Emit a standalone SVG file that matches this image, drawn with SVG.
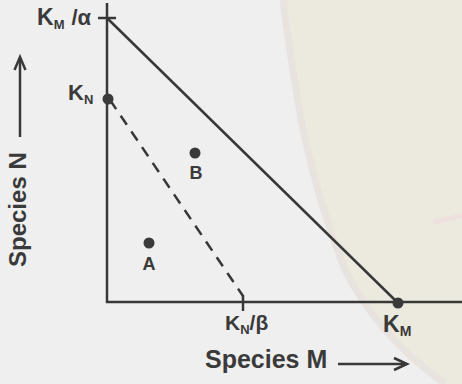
<svg xmlns="http://www.w3.org/2000/svg" width="462" height="384" viewBox="0 0 462 384">
<style>
.t{font-family:"Liberation Sans",Arial,sans-serif;font-weight:bold;fill:#3a3a3a}
.ax{stroke:#383838;stroke-width:2.5;fill:none}
.dot{fill:#3a3a3a}
</style>
<rect width="462" height="384" fill="#efefef"/>
<path d="M283,0 C295,90 305,170 345,270 C370,320 405,355 445,384 L462,384 L462,0 Z" fill="#ece9de"/>
<path d="M283,0 C295,90 305,170 345,270 C370,320 405,355 445,384" fill="none" stroke="#e8e3de" stroke-width="7"/>
<path d="M433,222 L462,216" stroke="#eee0de" stroke-width="5" fill="none"/>
<g id="axes">
<line class="ax" x1="107" y1="3" x2="107" y2="303"/>
<line class="ax" x1="106" y1="302" x2="462" y2="302"/>
<line class="ax" x1="98" y1="18" x2="116" y2="18"/>
<line class="ax" x1="243" y1="295" x2="243" y2="311"/>
</g>
<g id="connectors">
<line class="ax" x1="107" y1="18" x2="398" y2="303"/>
<line class="ax" x1="110" y1="100" x2="243" y2="296" stroke-dasharray="11,8" stroke-width="3"/>
</g>
<g id="KMalpha"><text class="t" x="37" y="25" font-size="23">K<tspan y="29" font-size="13">M</tspan><tspan y="25" dx="7" font-size="22">/α</tspan></text></g>
<g id="KN"><circle class="dot" cx="108" cy="99" r="5.5"/><text class="t" x="68" y="100" font-size="22">K<tspan y="104" font-size="13">N</tspan></text></g>
<g id="KNbeta"><text class="t" x="225" y="330" font-size="21">K<tspan y="334" font-size="13">N</tspan><tspan y="330">/β</tspan></text></g>
<g id="KM"><circle class="dot" cx="398" cy="303" r="5.5"/><text class="t" x="383" y="332" font-size="23">K<tspan y="336" font-size="14">M</tspan></text></g>
<g id="B"><circle class="dot" cx="195" cy="153" r="5.5"/><text class="t" x="196" y="179" font-size="18" text-anchor="middle">B</text></g>
<g id="A"><circle class="dot" cx="149" cy="243" r="5.5"/><text class="t" x="149" y="270" font-size="18" text-anchor="middle">A</text></g>
<g id="speciesN">
<text class="t" font-size="24" transform="translate(26,267) rotate(-90)">Species N</text>
<line class="ax" x1="20" y1="137" x2="20" y2="59" stroke-width="2"/>
<path class="ax" d="M14.5,70 L20,57 L25.5,70" stroke-width="2"/>
</g>
<g id="speciesM">
<text class="t" x="205" y="368" font-size="25">Species M</text>
<line class="ax" x1="338" y1="364" x2="405" y2="364" stroke-width="2"/>
<path class="ax" d="M394,358 L407,364 L394,370" stroke-width="2"/>
</g>
</svg>
